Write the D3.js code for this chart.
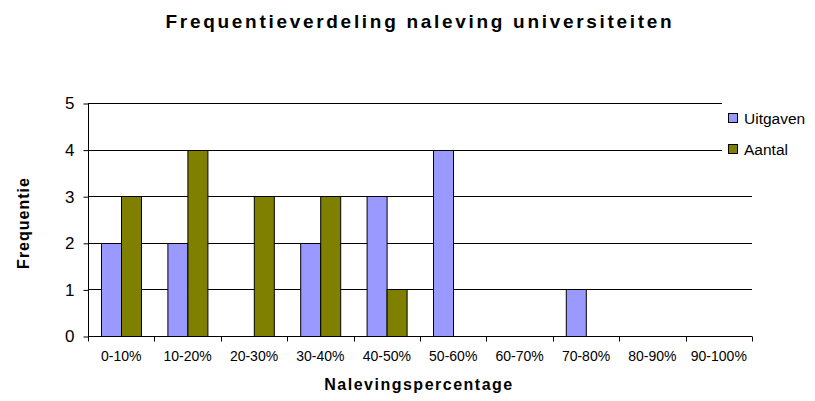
<!DOCTYPE html>
<html>
<head>
<meta charset="utf-8">
<script src="https://cdn.jsdelivr.net/npm/d3@7"></script>
<style>
  body { margin: 0; background: #fff; }
  text { font-family: "Liberation Sans", Arial, sans-serif; fill: #000; }
</style>
</head>
<body>
<div id="main"></div>
<script>
// chart data
const categories = ["0-10%", "10-20%", "20-30%", "30-40%", "40-50%", "50-60%", "60-70%", "70-80%", "80-90%", "90-100%"];
const seriesNames = ["Uitgaven", "Aantal"];
const uitgaven = [2, 2, 0, 2, 3, 4, 0, 1, 0, 0];
const aantal = [3, 4, 3, 3, 1, 0, 0, 0, 0, 0];
const yTicks = [0, 1, 2, 3, 4, 5];
const colors = ["#9999ff", "#808000"];

const width = 815, height = 401;
const margin = {left: 88, right: 63, top: 103, bottom: 65};

const svg = d3.select('#main').append('svg')
  .attr('width', width).attr('height', height);

// scales
const x0 = d3.scaleBand().domain(categories).range([margin.left, width - margin.right]).padding(0);
const x1 = d3.scaleBand().domain(seriesNames).range([0, x0.bandwidth()]).paddingInner(0).paddingOuter(0.66);
const y = d3.scaleLinear().domain([0, 5]).range([height - margin.bottom, margin.top]);

// gridlines
svg.append('g').selectAll('line').data(yTicks.filter(d => d > 0)).enter().append('line')
  .attr('x1', margin.left).attr('x2', width - margin.right)
  .attr('y1', d => Math.round(y(d)) + 0.5).attr('y2', d => Math.round(y(d)) + 0.5)
  .attr('stroke', '#000').attr('stroke-width', 1);

// bars
const rows = categories.map((c, i) => ({cat: c, values: [uitgaven[i], aantal[i]]}));
const groups = svg.append('g').selectAll('g').data(rows).enter().append('g')
  .attr('transform', d => 'translate(' + x0(d.cat) + ',0)');
groups.selectAll('rect').data(d => d.values.map((v, k) => ({name: seriesNames[k], v: v, k: k})).filter(d => d.v > 0))
  .enter().append('rect')
  .attr('x', d => Math.round(x1(d.name)) + 0.5)
  .attr('y', d => Math.round(y(d.v)) + 0.5)
  .attr('width', Math.round(x1.bandwidth()))
  .attr('height', d => Math.round(y(0)) - Math.round(y(d.v)))
  .attr('fill', d => colors[d.k])
  .attr('stroke', '#000').attr('stroke-width', 1);

// y axis
const yAxis = d3.axisLeft(y).tickValues(yTicks).tickSize(5).tickPadding(9).tickFormat(d3.format('d'));
const gy = svg.append('g').attr('transform', 'translate(' + (margin.left + 0.5) + ',0.5)').call(yAxis);
gy.selectAll('text').style('font-size', '17px');
gy.select('.domain').attr('d', 'M0,' + Math.round(y(5)) + 'V' + Math.round(y(0)));

// x axis
const xAxis = d3.axisBottom(x0).tickSize(0).tickPadding(15);
const gx = svg.append('g').attr('transform', 'translate(0,' + (Math.round(y(0)) + 0.5) + ')').call(xAxis);
gx.selectAll('text').style('font-size', '14px');
gx.select('.domain').attr('d', 'M' + margin.left + ',0H' + (width - margin.right));
// tick marks at category boundaries
gx.append('g').selectAll('line').data(categories.concat(['end'])).enter().append('line')
  .attr('x1', (d, i) => Math.round(margin.left + i * x0.step()) + 0.5)
  .attr('x2', (d, i) => Math.round(margin.left + i * x0.step()) + 0.5)
  .attr('y1', 0).attr('y2', 5).attr('stroke', '#000');

// legend
const legend = svg.append('g').attr('transform', 'translate(722,96)');
legend.append('rect').attr('x', 0).attr('y', 0).attr('width', 93).attr('height', 68).attr('fill', '#fff');
seriesNames.forEach((name, i) => {
  legend.append('rect').attr('x', 6.5).attr('y', 17.5 + i * 31).attr('width', 9).attr('height', 9)
    .attr('fill', colors[i]).attr('stroke', '#000');
  legend.append('text').attr('x', 22).attr('y', 27.5 + i * 31).style('font-size', '15.5px').text(name);
});

// titles
svg.append('text').attr('x', 420).attr('y', 28).attr('text-anchor', 'middle')
  .style('font-size', '19px').style('font-weight', 'bold').style('letter-spacing', '2.7px')
  .text('Frequentieverdeling naleving universiteiten');

svg.append('text').attr('x', 419).attr('y', 390).attr('text-anchor', 'middle')
  .style('font-size', '16px').style('font-weight', 'bold').style('letter-spacing', '1.5px')
  .text('Nalevingspercentage');

svg.append('text').attr('transform', 'translate(29,223) rotate(-90)').attr('text-anchor', 'middle')
  .style('font-size', '16px').style('font-weight', 'bold').style('letter-spacing', '1px')
  .text('Frequentie');
</script>
</body>
</html>
